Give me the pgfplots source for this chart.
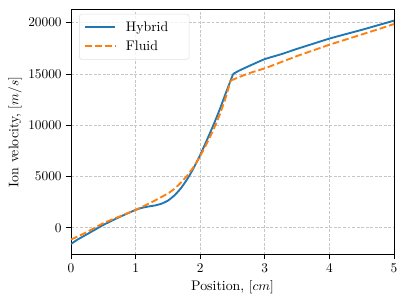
\documentclass[border=0pt]{standalone}
\usepackage{pgfplots}
\pgfplotsset{compat=1.18}
\definecolor{tabblue}{HTML}{1F77B4}
\definecolor{taborange}{HTML}{FF7F0E}
\begin{document}
\begin{tikzpicture}[x=1pt,y=1pt]
\begin{axis}[
  scale only axis,
  width=242.25pt, height=184pt,
  xmin=0, xmax=5, ymin=-2630, ymax=21290,
  xtick={0,1,2,3,4,5},
  ytick={0,5000,10000,15000,20000},
  scaled y ticks=false,
  yticklabel style={/pgf/number format/.cd,fixed,1000 sep={}},
  tick label style={font=\fontsize{10.4}{12}\selectfont},
  label style={font=\fontsize{10.4}{12}\selectfont},
  tick align=outside,
  tick pos=left,
  major tick length=3.5pt,
  tick style={black, line width=0.6pt},
  axis line style={black, line width=0.6pt},
  grid=major,
  major grid style={dash pattern=on 2.2pt off 1.2pt, gray!45, line width=0.5pt},
  xlabel={Position, $[cm]$},
  ylabel={Ion velocity, $[m/s]$},
  xlabel style={yshift=1pt},
  ylabel style={yshift=-2pt},
  legend style={at={(0.025,0.982)}, anchor=north west, draw=gray!25, rounded corners=2pt, fill=white, fill opacity=0.8, text opacity=1, row sep=1.5pt, inner sep=3.5pt, font=\fontsize{10.4}{12}\selectfont, nodes={text width=42pt}},
  legend cell align=left,
  legend image code/.code={\draw[#1] plot coordinates {(0pt,0pt) (22.5pt,0pt)}; \path (28pt,0pt);},
]
\addplot[tabblue, line width=1.4pt, smooth, tension=0.3] coordinates {
(0,-1580) (0.1,-1150) (0.25,-620) (0.5,280) (0.75,1050) (1.0,1750)
(1.1,1950) (1.2,2080) (1.3,2180) (1.4,2350) (1.5,2650) (1.6,3150)
(1.7,3850) (1.8,4750) (1.9,5850) (2.0,7100) (2.1,8500) (2.2,9950)
(2.3,11500) (2.4,13200) (2.51,15000)
};
\addlegendentry{Hybrid}
\addplot[taborange, line width=1.4pt, dash pattern=on 5.2pt off 2.2pt, smooth, tension=0.3] coordinates {
(0,-1150) (0.25,-400) (0.5,450) (0.75,1100) (1.0,1750) (1.25,2500)
(1.5,3350) (1.6,3800) (1.7,4400) (1.8,5100) (1.9,5950) (2.0,7000)
(2.1,8200) (2.2,9500) (2.3,11000) (2.4,12800) (2.47,14350)
};
\addlegendentry{Fluid}
\addplot[tabblue, line width=1.4pt, smooth, tension=0.3, forget plot] coordinates {
(2.51,15000) (2.6,15320) (2.8,15900) (3.0,16450) (3.25,16920) (3.5,17450)
(3.75,17950) (4.0,18450) (4.25,18880) (4.5,19300) (4.75,19750) (5.0,20200)
};
\addplot[taborange, line width=1.4pt, dash pattern=on 5.2pt off 2.2pt, smooth, tension=0.3, forget plot] coordinates {
(2.47,14350) (2.55,14560) (2.75,15060) (3.0,15550) (3.25,16150) (3.5,16750)
(3.75,17300) (4.0,17850) (4.25,18350) (4.5,18850) (4.75,19350) (5.0,19870)
};
\end{axis}
\path ([xshift=-53.25pt,yshift=-37.5pt]current axis.south west) rectangle ([xshift=9.75pt,yshift=7.1pt]current axis.north east);
\end{tikzpicture}
\end{document}
